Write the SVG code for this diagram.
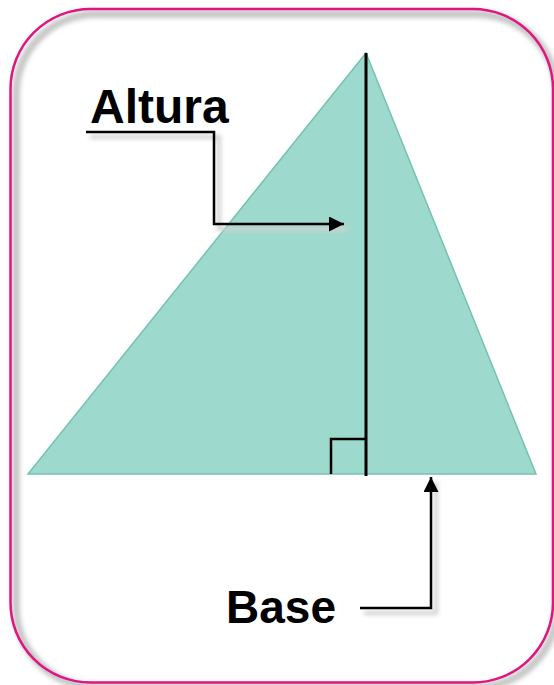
<svg xmlns="http://www.w3.org/2000/svg" width="554" height="685" viewBox="0 0 554 685">
<style>
.lbl{font-family:"Liberation Sans",Arial,sans-serif;font-weight:bold;fill:#000}
.lead{fill:none;stroke:#000;stroke-width:2.5}
.shadow{fill:none;stroke:#d0d0d0;stroke-width:4}
</style>
<defs>
<filter id="blur" x="-10%" y="-10%" width="120%" height="120%"><feGaussianBlur stdDeviation="2"/></filter>
<marker id="arr" viewBox="0 0 10 10" refX="10" refY="5" markerWidth="6.4" markerHeight="6" orient="auto" markerUnits="strokeWidth"><path d="M0,0 L10,5 L0,10 Z" fill="#000"/></marker>
</defs>
<rect width="554" height="685" fill="#fff"/>
<g id="frame">
<rect x="16" y="14" width="541" height="673" rx="80" fill="none" stroke="#c8c8c8" stroke-width="8" filter="url(#blur)"/>
<rect x="10.5" y="9" width="542.5" height="673.5" rx="80" fill="none" stroke="#e0157f" stroke-width="2.5"/>
</g>
<g id="triangle">
<polygon points="28,474 366,53 536,474" fill="#9ed9ce" stroke="#74c2b3" stroke-width="1.5"/>
</g>
<g id="altitude">
<line x1="366" y1="53" x2="366" y2="476" stroke="#000" stroke-width="3"/>
<polyline points="331,474 331,439 366,439" fill="none" stroke="#000" stroke-width="2.5"/>
</g>
<g id="label-altura">
<text class="lbl" x="90" y="123" font-size="48">Altura</text>
</g>
<g id="label-base">
<text class="lbl" x="226" y="623" font-size="46">Base</text>
</g>
<g id="connectors">
<polyline class="shadow" points="90,137 219,137 219,229 348,229" filter="url(#blur)"/>
<polyline class="shadow" points="364,613 436,613 436,482" filter="url(#blur)"/>
<polyline class="lead" points="86,132 214,132 214,224 344,224" marker-end="url(#arr)"/>
<polyline class="lead" points="360,608 431,608 431,477" marker-end="url(#arr)"/>
</g>
</svg>
